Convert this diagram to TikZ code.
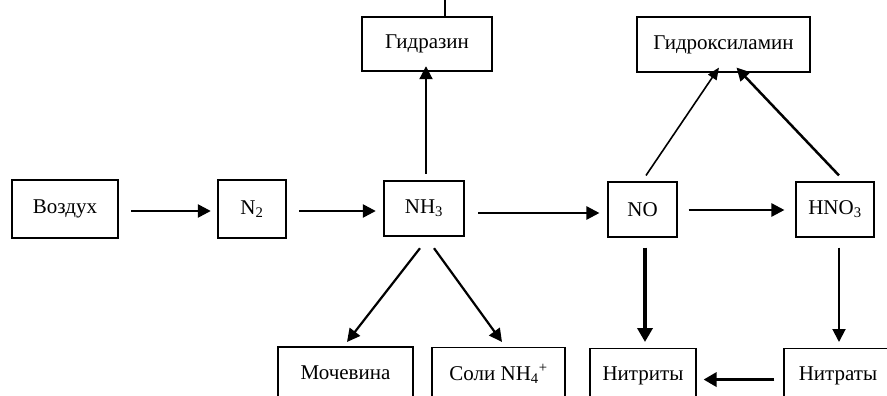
\documentclass[tikz,border=0pt]{standalone}
\usepackage{fontspec}
\setmainfont{Liberation Serif}
\usetikzlibrary{arrows.meta,calc}
\begin{document}
\begin{tikzpicture}[x=1pt,y=-1pt,
  box/.style={draw, rectangle, inner sep=0pt, font=\fontsize{21}{25}\selectfont},
  thk/.style={line width=2.4pt},
  thn/.style={line width=1.1pt},
  lowbox/.style={box, anchor=north, minimum height=62pt, text depth=12pt},
  arr/.style={-{Triangle[length=13pt,width=13pt]}, line width=2.5pt},
  arrthin/.style={-{Triangle[length=12pt,width=10pt]}, line width=1.6pt},
  arrfat/.style={-{Triangle[length=14pt,width=15pt]}, line width=4.5pt}]
\clip (0,0) rectangle (887,396);
% top row boxes
\node[box, thk, minimum width=130pt, minimum height=54pt] (gidr) at (427,44) {Гидразин};
\node[box, thn, minimum width=173pt, minimum height=55pt] (gidrox) at (723.5,44.5) {Гидроксиламин};
% middle row
\node[box, thk, minimum width=106pt, minimum height=58pt] (vozd) at (65,209) {Воздух};
\node[box, thk, minimum width=68pt, minimum height=58pt] (n2) at (252,209) {N\textsubscript{2}};
\node[box, thk, minimum width=80pt, minimum height=55pt] (nh3) at (424,208.5) {NH\textsubscript{3}};
\node[box, thn, minimum width=69pt, minimum height=55pt] (no) at (642.5,209.5) {NO};
\node[box, thn, minimum width=78pt, minimum height=55pt] (hno3) at (835,209.5) {HNO\textsubscript{3}};
% bottom row
\node[lowbox, thk, minimum width=135pt] (moch) at (345.5,346) {Мочевина};
\node[lowbox, thn, minimum width=133pt] (soli) at (498.5,347) {Соли NH\textsubscript{4}\textsuperscript{+}};
\node[lowbox, thn, minimum width=106pt] (nitrit) at (643,348) {Нитриты};
\node[lowbox, thn, minimum width=108pt] (nitrat) at (838,348) {Нитраты};
% line leaving the top
\coordinate (topend) at (445,0);
\draw[line width=2pt] (topend) -- (topend |- gidr.north);
% horizontal arrows
\draw[arr] ($(vozd.east)+(12,2)$) -- ($(n2.west)+(-6,2)$);
\draw[arr] ($(n2.east)+(12,2)$) -- ($(nh3.west)+(-7,2.5)$);
\draw[arr] ($(nh3.east)+(13,4.5)$) -- ($(no.west)+(-8,3.5)$);
\draw[arr] ($(no.east)+(11,0.5)$) -- ($(hno3.west)+(-11,0.5)$);
% upward arrows
\draw[arr, line width=2pt] ($(nh3.north)+(2,-6)$) -- ($(gidr.south)+(-1,-6)$);
\draw[arrthin] ($(no.north)+(3.5,-6)$) -- ($(gidrox.south)+(-4.5,-5)$);
\draw[arr] ($(hno3.north)+(4,-6)$) -- ($(gidrox.south)+(13,-5)$);
% downward arrows
\draw[arr, line width=2.2pt] ($(nh3.south)+(-4,11)$) -- ($(moch.north)+(1.5,-4)$);
\draw[arr, line width=2.2pt] ($(nh3.south)+(10,11)$) -- ($(soli.north)+(3.5,-5)$);
\draw[arrfat] ($(no.south)+(2.5,10)$) -- ($(no.south |- nitrit.north)+(2.5,-6)$);
\draw[arr, line width=2pt] ($(hno3.south)+(4,10)$) -- ($(hno3.south |- nitrat.north)+(4,-6)$);
% bottom horizontal arrow
\draw[arr, line width=3.8pt, -{Triangle[length=13pt,width=14pt]}] ($(nitrat.west)+(-9,0)$ |- 0,378) -- ($(nitrit.east)+(7,0)$ |- 0,378);
\end{tikzpicture}
\end{document}
